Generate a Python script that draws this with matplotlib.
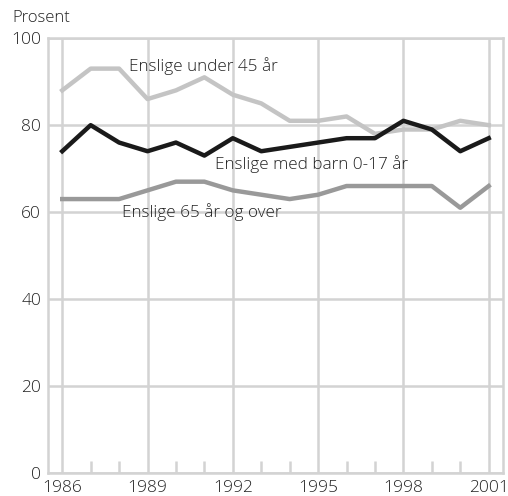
import matplotlib.pyplot as plt

plt.rcParams['font.family'] = ['Open Sans', 'DejaVu Sans']
plt.rcParams['font.weight'] = 'light'

aar = list(range(1986, 2002))
under_45 = [88, 93, 93, 86, 88, 91, 87, 85, 81, 81, 82, 78, 79, 79, 81, 80]
med_barn = [74, 80, 76, 74, 76, 73, 77, 74, 75, 76, 77, 77, 81, 79, 74, 77]
over_65 = [63, 63, 63, 65, 67, 67, 65, 64, 63, 64, 66, 66, 66, 66, 61, 66]
x_ticks = [1986, 1989, 1992, 1995, 1998, 2001]
y_ticks = [0, 20, 40, 60, 80, 100]

grid_farge = '#d3d3d3'
tekst_farge = '#222222'

fig = plt.figure(figsize=(5.08, 4.96), dpi=100)
ax = fig.add_axes([0.0945, 0.0464, 0.8955, 0.8766])

ax.plot(aar, under_45, color='#c4c4c4', lw=3.2, zorder=3)
ax.plot(aar, over_65, color='#999999', lw=3.2, zorder=3)
ax.plot(aar, med_barn, color='#1a1a1a', lw=3.2, zorder=4)

ax.set_xlim(1985.5, 2001.5)
ax.set_ylim(0, 100)
ax.set_xticks(x_ticks)
ax.set_xticks([a for a in aar if a not in x_ticks], minor=True)
ax.set_yticks(y_ticks)
ax.grid(True, which='major', color=grid_farge, lw=1.8, zorder=1)
ax.tick_params(which='major', length=0, labelsize=12.5, colors=tekst_farge)
ax.tick_params(axis='y', which='major', pad=5)
ax.tick_params(axis='x', which='major', pad=5)
ax.tick_params(which='minor', direction='in', length=9, width=1.8, color=grid_farge)
for s in ax.spines.values():
    s.set_color(grid_farge)
    s.set_linewidth(1.8)

ax.text(1988.35, 93.6, 'Enslige under 45 år', fontsize=12.3, va='center', color=tekst_farge)
ax.text(1991.37, 71.0, 'Enslige med barn 0-17 år', fontsize=12.3, va='center', color=tekst_farge)
ax.text(1988.1, 60.0, 'Enslige 65 år og over', fontsize=12.3, va='center', color=tekst_farge)
fig.text(12 / 508, 1 - 18 / 496, 'Prosent', fontsize=12, va='center', color=tekst_farge)

plt.savefig('out.png')
